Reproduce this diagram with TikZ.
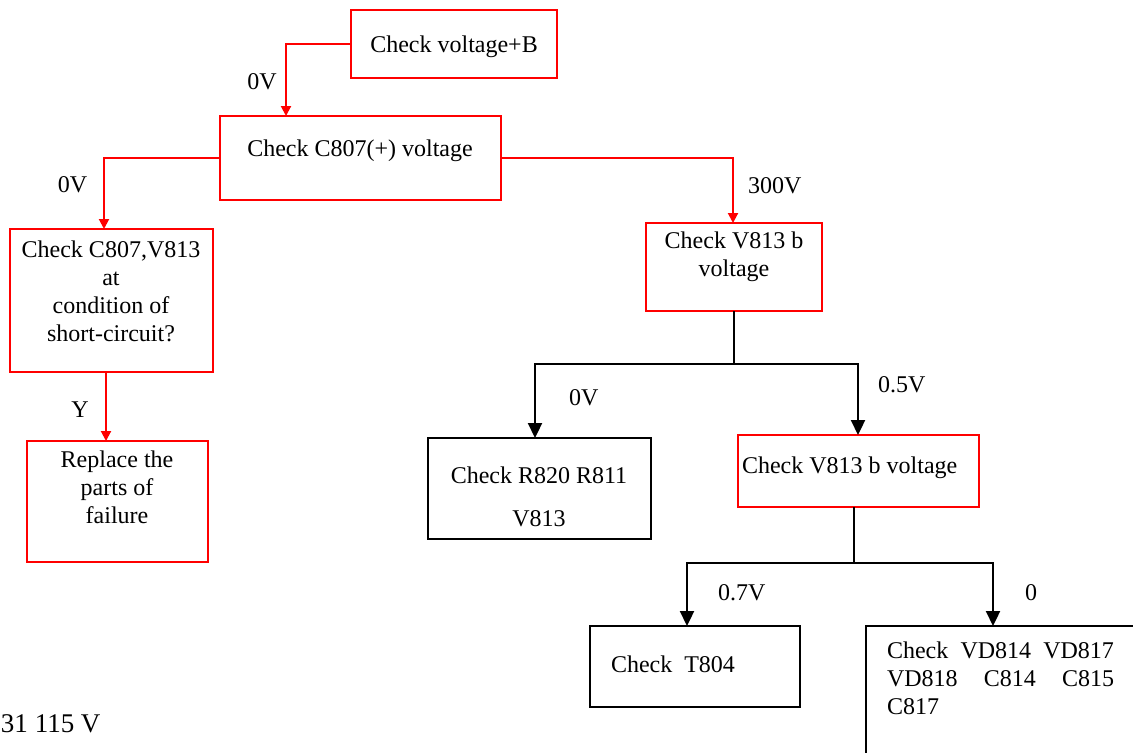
\documentclass[tikz,border=0pt]{standalone}
\usepackage{fontspec}
\setmainfont{Liberation Serif}
\usetikzlibrary{arrows.meta}
\begin{document}
\begin{tikzpicture}[x=0.5pt,y=-0.5pt,
  every node/.style={inner sep=0pt, outer sep=0pt, font=\fontsize{12}{14}\selectfont},
  redbox/.style={draw=red, line width=1pt, rectangle},
  blkbox/.style={draw=black, line width=1.2pt, rectangle},
  redline/.style={draw=red, line width=1pt},
  redarrow/.style={draw=red, line width=1pt, -{Triangle[width=5pt,length=5pt]}},
  blkline/.style={draw=black, line width=1.1pt},
  blkarrow/.style={draw=black, line width=1.1pt, -{Triangle[width=7pt,length=7.5pt]}},
  lbl/.style={anchor=base}
]
\useasboundingbox (0,0) rectangle (1133,752);
\clip (0,0) rectangle (1133,752);

% boxes
\node[redbox, minimum width=103pt, minimum height=34pt] (b1) at (454,44) {};
\node[redbox, minimum width=140.5pt, minimum height=42pt] (b2) at (360.5,158) {};
\node[redbox, minimum width=101.5pt, minimum height=71.5pt] (b3) at (111.5,300.5) {};
\node[redbox, minimum width=90.5pt, minimum height=60.5pt] (b9) at (117.5,501.5) {};
\node[redbox, minimum width=88pt, minimum height=44pt] (b4) at (734,267) {};
\node[blkbox, minimum width=111.5pt, minimum height=50.5pt] (b5) at (539.5,488.5) {};
\node[redbox, minimum width=120.5pt, minimum height=36pt] (b6) at (858.5,471) {};
\node[blkbox, minimum width=105pt, minimum height=40.5pt] (b7) at (695,666.5) {};
\node[blkbox, minimum width=142pt, minimum height=77pt] (b8) at (1008,703) {};

% box texts
\node[lbl] (t1) at (454,52) {Check voltage+B};
\node[lbl] (t2) at (360,156) {Check C807(+) voltage};
\node[anchor=north, align=center] (t3) at (111,240.6) {Check C807,V813\\at\\condition of\\short-circuit?};
\node[anchor=north, align=center] (t9) at (117,450.6) {Replace the\\parts of\\failure};
\node[anchor=north, align=center] (t4) at (734,231.6) {Check V813 b\\voltage};
\node[anchor=north, align=center] (t5) at (539,466.6) {Check R820 R811\\[7.5pt]V813};
\node[anchor=base west] (t6) at (742,473) {Check V813 b voltage};
\node[anchor=base west] (t7) at (611,672) {Check\ \ T804};
\node[anchor=north west, align=left] (t8) at (887,641.6) {\makebox[113.5pt][s]{Check VD814 VD817}\\\makebox[113.5pt][s]{VD818 C814 C815}\\C817};

% labels
\node[lbl] (l1) at (262,89) {0V};
\node[lbl] (l2) at (72.5,192) {0V};
\node[anchor=base west] (l3) at (748,193) {300V};
\node[lbl] (l4) at (80,417) {Y};
\node[anchor=base west] (l5) at (569,405) {0V};
\node[anchor=base west] (l6) at (878,392) {0.5V};
\node[anchor=base west] (l7) at (718,600) {0.7V};
\node[anchor=base west] (l8) at (1025,600) {0};
\node[anchor=base west, font=\fontsize{13.5}{16}\selectfont] (l9) at (1,732) {31 115 V};

% red connectors
\draw[redarrow] (b1.west) -| ([xshift=33pt]b2.north west);
\draw[redarrow] (b2.west) -| ([xshift=47pt]b3.north west);
\draw[redarrow] ([xshift=48pt]b3.south west) -- ([xshift=48pt]b3.south west |- b9.north);
\draw[redarrow] (b2.east) -| ([xshift=43.5pt]b4.north west);

% black connectors
\coordinate (s1) at (734,364);
\draw[blkline] (b4.south) -- (s1);
\draw[blkarrow] (s1) -| ([xshift=53.5pt]b5.north west);
\draw[blkarrow] (s1) -| ([xshift=60pt]b6.north west);
\coordinate (s2) at (854,563);
\draw[blkline] ([xshift=58pt]b6.south west) -- (s2);
\draw[blkarrow] (s2) -| ([xshift=48.5pt]b7.north west);
\draw[blkarrow] (s2) -| ([xshift=63.5pt]b8.north west);
\end{tikzpicture}
\end{document}
